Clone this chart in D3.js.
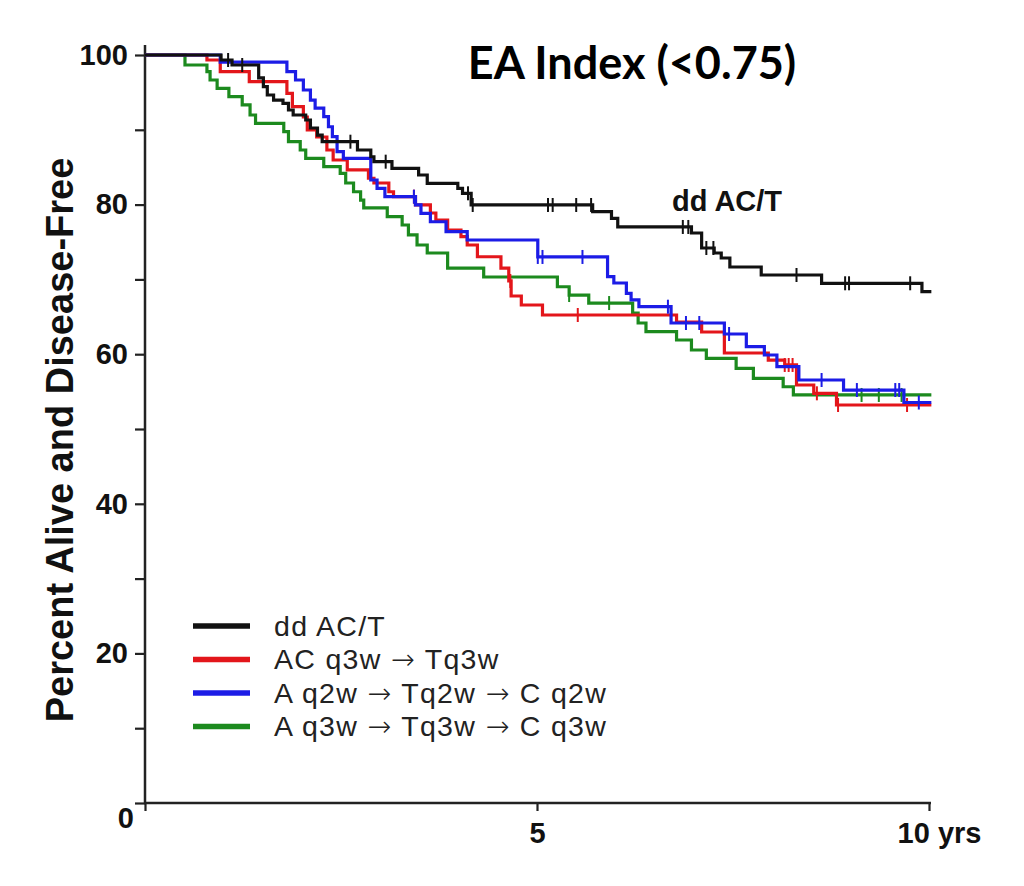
<!DOCTYPE html>
<html>
<head>
  <meta charset="utf-8">
  <title>EA Index (<0.75)</title>
  <script src="https://cdn.jsdelivr.net/npm/d3@7"></script>
  <style>
    body { margin: 0; background: #fff; }
    svg { display: block; }
  </style>
</head>
<body>
  <div id="chart"></div>

  <script>
    // Kaplan-Meier steps: [years, percent]
    var ddACT = [
      [0, 100], [0.97, 99.33], [1.11, 98.66], [1.45, 96.93], [1.51, 95.76], [1.56, 94.65],
      [1.64, 93.98], [1.76, 93.54], [1.83, 92.65], [1.89, 91.98], [2.05, 91.31], [2.11, 90.24],
      [2.20, 89.30], [2.26, 88.41], [2.71, 87.30], [2.88, 86.40], [2.92, 85.74], [3.15, 84.85],
      [3.49, 83.96], [3.60, 82.85], [3.99, 82.18], [4.05, 81.51], [4.16, 79.95], [5.71, 79.05],
      [5.95, 78.17], [6.03, 77.01], [6.97, 76.20], [7.10, 74.20], [7.26, 73.53], [7.35, 72.86],
      [7.46, 71.66], [7.86, 70.59], [8.63, 69.48], [9.91, 68.36], [10.03, 68.36]
    ];
    var ACq3w = [
      [0, 100], [0.79, 99.33], [0.96, 97.77], [1.33, 96.43], [1.81, 94.88], [1.88, 93.09],
      [2.02, 91.71], [2.07, 89.97], [2.19, 89.04], [2.32, 87.30], [2.40, 85.96], [2.58, 84.63],
      [2.85, 83.52], [2.92, 82.89], [3.11, 81.72], [3.17, 81.06], [3.45, 79.95], [3.64, 78.88],
      [3.71, 77.94], [3.86, 76.60], [4.03, 75.71], [4.11, 74.60], [4.24, 73.03], [4.54, 71.52],
      [4.64, 69.79], [4.67, 67.78], [4.80, 66.58], [5.07, 65.24], [6.78, 64.30], [7.10, 62.97],
      [7.39, 60.16], [7.95, 59.22], [8.16, 58.56], [8.31, 55.88], [8.53, 54.77], [8.82, 53.21],
      [10.03, 53.21]
    ];
    var Aq2w = [
      [0, 100], [0.96, 99.06], [1.81, 97.77], [1.92, 96.66], [2.02, 95.32], [2.11, 93.98],
      [2.17, 92.91], [2.28, 91.75], [2.34, 90.41], [2.39, 89.08], [2.45, 87.07], [2.53, 86.19],
      [2.88, 83.29], [2.96, 82.18], [3.06, 81.06], [3.45, 79.95], [3.52, 78.84], [3.64, 77.71],
      [3.84, 76.38], [4.11, 75.27], [5.01, 73.00], [5.90, 70.36], [5.98, 69.52], [6.14, 68.14],
      [6.20, 67.25], [6.30, 66.35], [6.71, 64.17], [7.39, 62.70], [7.67, 61.00], [7.90, 59.89],
      [8.06, 58.33], [8.34, 56.55], [8.91, 55.21], [9.68, 53.54], [10.03, 53.54]
    ];
    var Aq3w = [
      [0, 100], [0.51, 98.66], [0.79, 97.77], [0.83, 96.66], [0.92, 95.55], [1.07, 94.43],
      [1.24, 93.32], [1.34, 91.98], [1.41, 90.87], [1.77, 89.75], [1.83, 88.41], [1.98, 87.30],
      [2.05, 86.19], [2.28, 85.07], [2.49, 84.18], [2.56, 82.89], [2.66, 81.72], [2.75, 80.61],
      [2.79, 79.55], [3.09, 78.38], [3.28, 77.27], [3.36, 75.94], [3.47, 74.60], [3.60, 73.53],
      [3.86, 71.52], [4.32, 70.32], [5.26, 69.02], [5.41, 67.91], [5.66, 66.84], [6.22, 65.51],
      [6.29, 64.17], [6.39, 63.01], [6.78, 61.90], [6.97, 60.56], [7.16, 59.45], [7.54, 58.11],
      [7.76, 56.77], [8.14, 55.65], [8.27, 54.55], [10.03, 54.55]
    ];

    // censored times (years)
    var ddACTCensor = [1.06, 1.24, 2.62, 3.07, 4.12, 4.18, 5.14, 5.20, 5.50, 5.69, 6.86, 6.93,
                       7.16, 7.25, 8.31, 8.93, 8.98, 9.76];
    var ACq3wCensor = [3.43, 4.66, 5.52, 8.16, 8.21, 8.26, 8.57, 8.84, 9.72];
    var Aq2wCensor = [3.43, 5.01, 5.07, 5.58, 6.67, 6.90, 7.07, 7.45, 8.63, 9.08, 9.57, 9.62, 9.87];
    var Aq3wCensor = [5.41, 5.92, 9.14, 9.36, 9.65];

    var seriesNames = ['dd AC/T', 'AC q3w \u2192 Tq3w', 'A q2w \u2192 Tq2w \u2192 C q2w', 'A q3w \u2192 Tq3w \u2192 C q3w'];
    var seriesColors = ['#111111', '#e3161b', '#1c1ce6', '#1c8a1e'];
    var seriesData = [ddACT, ACq3w, Aq2w, Aq3w];
    var seriesCensor = [ddACTCensor, ACq3wCensor, Aq2wCensor, Aq3wCensor];

    var yTicks = [0, 10, 20, 30, 40, 50, 60, 70, 80, 90, 100];
    var yLabels = [0, 20, 40, 60, 80, 100];
    var xTicks = [0, 5, 10];
    var xLabels = { 0: '', 5: '5', 10: '10 yrs' };

    var width = 1024, height = 886;
    var svg = d3.select('#chart').append('svg')
      .attr('width', width)
      .attr('height', height);

    svg.append('rect').attr('width', width).attr('height', height).attr('fill', '#fff');

    var x = d3.scaleLinear().domain([0, 10]).range([145, 929]);
    var y = d3.scaleLinear().domain([0, 100]).range([803, 55]);

    var font = '"Liberation Sans", Arial, sans-serif';

    // y axis
    var yAxis = svg.append('g')
      .attr('transform', 'translate(' + x(0) + ',0)')
      .call(d3.axisLeft(y)
        .tickValues(yTicks)
        .tickSize(10)
        .tickPadding(7)
        .tickFormat(function (d) { return yLabels.indexOf(d) >= 0 ? d : ''; }));
    yAxis.select('.domain').remove();
    yAxis.selectAll('.tick line').attr('stroke', '#222').attr('stroke-width', 2.2);
    yAxis.selectAll('.tick text')
      .attr('fill', '#111')
      .style('font-family', font)
      .style('font-weight', 'bold')
      .style('font-size', '29px');
    yAxis.selectAll('.tick').filter(function (d) { return d === 0; })
      .select('text').attr('x', -11).attr('dy', '0.85em');
    yAxis.append('line')
      .attr('x1', 0).attr('x2', 0)
      .attr('y1', y(100) - 10).attr('y2', y(0) + 1)
      .attr('stroke', '#222').attr('stroke-width', 2.5);

    // x axis
    var xAxis = svg.append('g')
      .attr('transform', 'translate(0,' + y(0) + ')')
      .call(d3.axisBottom(x)
        .tickValues(xTicks)
        .tickSize(8)
        .tickPadding(11)
        .tickFormat(function (d) { return xLabels[d]; }));
    xAxis.select('.domain').remove();
    xAxis.selectAll('.tick line').attr('stroke', '#222').attr('stroke-width', 2.2);
    xAxis.selectAll('.tick text')
      .attr('fill', '#111')
      .style('font-family', font)
      .style('font-weight', 'bold')
      .style('font-size', '29px');
    xAxis.selectAll('.tick').filter(function (d) { return d === 10; })
      .select('text').attr('dx', 10);
    xAxis.append('line')
      .attr('x1', x(0) - 1).attr('x2', x(10) + 2)
      .attr('y1', 0).attr('y2', 0)
      .attr('stroke', '#222').attr('stroke-width', 2.5);

    // y axis title
    svg.append('text')
      .attr('transform', 'translate(73,' + 440 + ') rotate(-90)')
      .attr('text-anchor', 'middle')
      .attr('fill', '#111')
      .style('font-family', font)
      .style('font-weight', 'bold')
      .style('font-size', '38px')
      .text('Percent Alive and Disease-Free');

    // title
    svg.append('text')
      .attr('x', 632).attr('y', 79)
      .attr('text-anchor', 'middle')
      .attr('fill', '#000')
      .style('font-family', 'Lato, "Open Sans", sans-serif')
      .style('font-weight', 'bold')
      .style('font-size', '45px')
      .text('EA Index (<0.75)');

    // curve annotation
    svg.append('text')
      .attr('x', 672).attr('y', 211)
      .attr('fill', '#111')
      .style('font-family', font)
      .style('font-weight', 'bold')
      .style('font-size', '29px')
      .text('dd AC/T');

    // curves
    var line = d3.line()
      .x(function (d) { return x(d[0]); })
      .y(function (d) { return y(d[1]); })
      .curve(d3.curveStepAfter);

    function levelAt(data, t) {
      var s = data[0][1];
      data.forEach(function (d) { if (d[0] <= t) s = d[1]; });
      return s;
    }

    var order = [3, 1, 2, 0];
    order.forEach(function (i) {
      var g = svg.append('g');
      g.append('path')
        .datum(seriesData[i])
        .attr('d', line)
        .attr('fill', 'none')
        .attr('stroke', seriesColors[i])
        .attr('stroke-width', 3.2);
      g.selectAll('line.censor')
        .data(seriesCensor[i])
        .enter()
        .append('line')
          .attr('class', 'censor')
          .attr('x1', function (t) { return x(t); })
          .attr('x2', function (t) { return x(t); })
          .attr('y1', function (t) { return y(levelAt(seriesData[i], t)) - 7; })
          .attr('y2', function (t) { return y(levelAt(seriesData[i], t)) + 7; })
          .attr('stroke', seriesColors[i])
          .attr('stroke-width', 2);
    });

    // legend
    var legend = svg.append('g').attr('transform', 'translate(193,626)');
    var rows = legend.selectAll('g')
      .data(seriesNames)
      .enter()
      .append('g')
        .attr('transform', function (d, i) { return 'translate(0,' + (i * 33.5) + ')'; });
    rows.append('line')
      .attr('x1', 0).attr('x2', 57)
      .attr('y1', 0).attr('y2', 0)
      .attr('stroke', function (d, i) { return seriesColors[i]; })
      .attr('stroke-width', 5.5);
    var labels = rows.append('text')
      .attr('x', 81).attr('y', 0)
      .attr('dy', '0.35em')
      .attr('fill', '#222')
      .style('font-family', font)
      .style('font-size', '28.5px')
      .style('letter-spacing', '1.3px');
    // arrows drawn with a wider glyph, the rest in the text font
    labels.each(function (d) {
      var t = d3.select(this);
      d.split(/(\u2192)/).forEach(function (part) {
        if (!part) return;
        var span = t.append('tspan').text(part);
        if (part === '\u2192') span.style('font-family', '"DejaVu Sans", sans-serif').style('font-weight', 200);
      });
    });
  </script>
</body>
</html>
